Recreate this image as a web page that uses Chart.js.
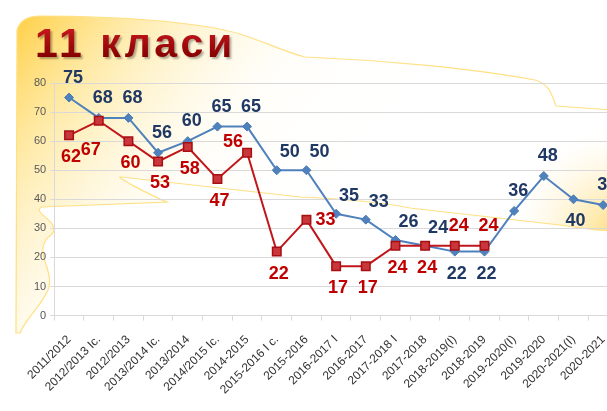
<!DOCTYPE html>
<html>
<head>
	<meta charset="utf-8">
	<title>11 класи</title>
	<style>
		html, body { margin: 0; padding: 0; overflow: hidden; background: #fff; }
		#wrap { position: relative; width: 640px; height: 411px; }
	</style>
</head>
<body>
	<div id="wrap"><canvas id="myChart"></canvas></div>
	<script type="text/javascript" src="https://cdn.jsdelivr.net/npm/chart.js@4.4.0/dist/chart.umd.min.js"></script>
	<script type="text/javascript">
		const chartTitle = "11 класи";

		const categories = [
			"2011/2012", "2012/2013 Iс.", "2012/2013", "2013/2014 Iс.", "2013/2014",
			"2014/2015 Iс.", "2014-2015", "2015-2016 I с.", "2015-2016", "2016-2017 I",
			"2016-2017", "2017-2018 I", "2017-2018", "2018-2019(I)", "2018-2019",
			"2019-2020(I)", "2019-2020", "2020-2021(I)", "2020-2021"
		];

		const blueValues = [75, 68, 68, 56, 60, 65, 65, 50, 50, 35, 33, 26, 24, 22, 22, 36, 48, 40, 38];
		const redValues = [62, 67, 60, 53, 58, 47, 56, 22, 33, 17, 17, 24, 24, 24, 24, null, null, null, null];

		const yMin = 0;
		const yMax = 80;
		const yStep = 10;

		// where each value label sits relative to its point
		const bluePlace = ["above", "above", "above", "above", "above", "above", "above",
			"aboveRight", "aboveRight", "aboveRight", "aboveRight", "aboveRight", "aboveRight",
			"below", "below", "above", "above", "below", "above"];
		const redPlace = ["below", "belowLeft", "below", "below", "below", "below", "aboveLeft",
			"below", "right", "below", "below", "below", "below", "above", "above"];

		const FONT = '"Liberation Sans", Arial, sans-serif';
		const BLUE = "#4F81BD";
		const RED = "#C0161C";

		const placeShift = {
			above: [4, -20],
			below: [2, 22],
			right: [19, 0],
			aboveRight: [13, -18],
			aboveLeft: [-14, -11],
			belowLeft: [-8, 29],
		};

		function drawBackdrop(ctx) {
			ctx.save();
			ctx.beginPath();
			ctx.moveTo(17, 30);
			ctx.bezierCurveTo(20, 20, 28, 16, 40, 16);
			ctx.bezierCurveTo(120, 16, 200, 22, 240, 34);
			ctx.bezierCurveTo(265, 42, 285, 52, 305, 57);
			ctx.bezierCurveTo(380, 60, 470, 68, 535, 80);
			ctx.bezierCurveTo(550, 84, 552, 96, 556, 106);
			ctx.lineTo(640, 112);
			ctx.lineTo(640, 232);
			ctx.bezierCurveTo(600, 231, 585, 229, 560, 225);
			ctx.lineTo(410, 208);
			ctx.bezierCurveTo(395, 205, 370, 200, 300, 197);
			ctx.lineTo(121, 177);
			ctx.bezierCurveTo(112, 175, 150, 195, 167, 202);
			ctx.lineTo(42, 207);
			ctx.bezierCurveTo(30, 212, 62, 222, 52, 234);
			ctx.bezierCurveTo(30, 250, 56, 270, 48, 290);
			ctx.bezierCurveTo(40, 308, 26, 318, 20, 333);
			ctx.lineTo(16, 333);
			ctx.closePath();

			let g = ctx.createLinearGradient(17, 16, 330, 260);
			g.addColorStop(0, "rgba(255,205,60,0.95)");
			g.addColorStop(0.3, "rgba(255,228,140,0.55)");
			g.addColorStop(0.6, "rgba(255,248,225,0.2)");
			g.addColorStop(1, "rgba(255,255,255,0)");
			ctx.fillStyle = g;
			ctx.fill();

			ctx.save();
			ctx.clip();
			let r = ctx.createRadialGradient(615, 232, 5, 615, 232, 100);
			r.addColorStop(0, "rgba(255,215,100,0.75)");
			r.addColorStop(1, "rgba(255,240,200,0)");
			ctx.fillStyle = r;
			ctx.fillRect(0, 0, 640, 411);
			ctx.restore();

			ctx.strokeStyle = "#FFE084";
			ctx.lineWidth = 1.2;
			ctx.stroke();
			ctx.restore();
		}

		function drawTitle(ctx) {
			ctx.save();
			ctx.font = "bold 41px " + FONT;
			ctx.letterSpacing = "3.5px";
			ctx.textAlign = "left";
			ctx.textBaseline = "alphabetic";
			let g = ctx.createLinearGradient(0, 28, 0, 58);
			g.addColorStop(0, "#C8181E");
			g.addColorStop(1, "#820000");
			ctx.shadowColor = "rgba(0,0,0,0.3)";
			ctx.shadowOffsetX = 2;
			ctx.shadowOffsetY = 2;
			ctx.shadowBlur = 2;
			ctx.fillStyle = g;
			ctx.fillText(chartTitle, 35, 57);
			ctx.restore();
		}

		const decorPlugin = {
			id: "decor",
			beforeDraw(chart) {
				drawBackdrop(chart.ctx);
				drawTitle(chart.ctx);
			},
		};

		const labelPlugin = {
			id: "pointLabels",
			afterDatasetsDraw(chart) {
				let ctx = chart.ctx;
				ctx.save();
				ctx.font = "bold 18px " + FONT;
				ctx.textAlign = "center";
				ctx.textBaseline = "middle";
				chart.data.datasets.forEach((ds, di) => {
					let meta = chart.getDatasetMeta(di);
					let places = ds.label === "blue" ? bluePlace : redPlace;
					ctx.fillStyle = ds.label === "blue" ? "#1F3864" : "#C00000";
					meta.data.forEach((pt, i) => {
						let v = ds.data[i];
						if (v === null || v === undefined) return;
						let s = placeShift[places[i]];
						ctx.fillText(String(v), pt.x + s[0], pt.y + s[1]);
					});
				});
				ctx.restore();
			},
		};

		let ctx = document.getElementById("myChart").getContext("2d");
		let myChart = new Chart(ctx, {
			type: "line",
			data: {
				labels: categories,
				datasets: [
					{
						label: "blue",
						data: blueValues,
						order: 1,
						borderColor: BLUE,
						backgroundColor: BLUE,
						borderWidth: 2,
						pointStyle: "rectRot",
						pointRadius: 4.5,
						pointBorderWidth: 1,
						pointBorderColor: "#4A7AB5",
						pointBackgroundColor: BLUE,
						tension: 0,
					},
					{
						label: "red",
						data: redValues,
						order: 0,
						borderColor: RED,
						backgroundColor: RED,
						borderWidth: 2,
						pointStyle: "rect",
						pointRadius: 6,
						pointBorderWidth: 1.5,
						pointBorderColor: "#A80E12",
						pointBackgroundColor: "#C9363B",
						spanGaps: false,
						tension: 0,
					},
				],
			},
			options: {
				responsive: true,
				maintainAspectRatio: false,
				animation: false,
				layout: { padding: { left: 30, right: 22, top: 83, bottom: 2 } },
				plugins: {
					legend: { display: false },
					tooltip: { enabled: false },
					title: { display: false },
				},
				scales: {
					x: {
						offset: true,
						grid: { display: true, drawOnChartArea: false, drawTicks: true, tickLength: 5, color: "#d9d9d9", offset: true },
						border: { color: "#d9d9d9" },
						ticks: { minRotation: 45, maxRotation: 45, autoSkip: false, color: "#333333", font: { size: 12, family: FONT }, padding: 12 },
					},
					y: {
						min: yMin,
						max: yMax,
						grid: { color: "#d9d9d9", tickLength: 4 },
						border: { color: "#d9d9d9" },
						ticks: { stepSize: yStep, color: "#595959", font: { size: 11, family: FONT }, padding: 4 },
					},
				},
			},
			plugins: [decorPlugin, labelPlugin],
		});
	</script>
</body>
</html>
